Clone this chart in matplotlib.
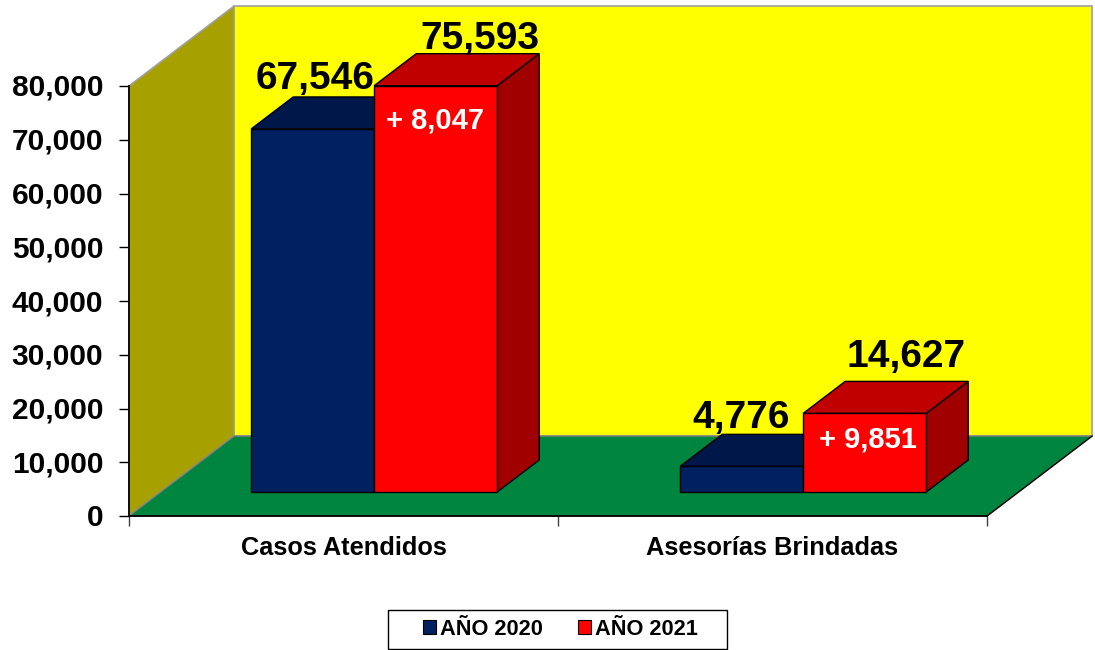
import matplotlib
matplotlib.use("Agg")
import matplotlib.pyplot as plt
from matplotlib.patches import Patch, Polygon, Rectangle
from matplotlib.transforms import ScaledTranslation

categories = ["Casos Atendidos", "Asesorías Brindadas"]
series_names = ["AÑO 2020", "AÑO 2021"]
values_2020 = [67546, 4776]
values_2021 = [75593, 14627]
differences = ["+ 8,047", "+ 9,851"]
yticks = [0, 10000, 20000, 30000, 40000, 50000, 60000, 70000, 80000]

NAVY = ("#002060", "#00174a", "#001a50")
RED = ("#ff0000", "#c00000", "#a00000")

# depth of the box, in data units
DX = 0.245
DY = 14880
BAR_W = 0.2867
BAR_D0 = 0.3
BAR_D1 = 0.7
GROUP_POS = 0.498


def proj(x, y, d):
    return (x + d * DX, y + d * DY)


def poly(ax, pts, color, edge="none", lw=0.0, z=1):
    ax.add_patch(Polygon(pts, closed=True, facecolor=color, edgecolor=edge,
                         linewidth=lw, clip_on=False, zorder=z))


def draw_bar(ax, x0, value, colors, z):
    x1 = x0 + BAR_W
    e = "#000000"
    # right side, top, then the front
    poly(ax, [proj(x1, 0, BAR_D0), proj(x1, 0, BAR_D1), proj(x1, value, BAR_D1),
              proj(x1, value, BAR_D0)], colors[2], e, 1.0, z)
    poly(ax, [proj(x0, value, BAR_D0), proj(x1, value, BAR_D0), proj(x1, value, BAR_D1),
              proj(x0, value, BAR_D1)], colors[1], e, 1.0, z)
    poly(ax, [proj(x0, 0, BAR_D0), proj(x1, 0, BAR_D0), proj(x1, value, BAR_D0),
              proj(x0, value, BAR_D0)], colors[0], e, 1.0, z)


def label(ax, x, y, text, off, size, color="black"):
    ax.annotate(text, xy=proj(x, y, BAR_D0), xytext=(off[0] * 0.72, off[1] * 0.72),
                textcoords="offset points", ha="center", va="baseline",
                fontsize=size, fontweight="bold", color=color,
                annotation_clip=False, zorder=10)


def main():
    plt.rcParams["font.family"] = ["Liberation Sans", "DejaVu Sans"]
    W, H = 1095, 650
    fig = plt.figure(figsize=(W / 100, H / 100), dpi=100)
    ax = fig.add_axes([129 / W, 1 - 516 / H, 858 / W, 430 / H])
    ax.set_xlim(0, 2)
    ax.set_ylim(0, 80000)

    # walls and floor
    top = yticks[-1]
    poly(ax, [proj(0, 0, 1), proj(2, 0, 1), proj(2, top, 1), proj(0, top, 1)],
         "#ffff00", "#a0a0a0", 1.2)
    poly(ax, [proj(0, 0, 0), proj(0, 0, 1), proj(0, top, 1), proj(0, top, 0)],
         "#a6a000", "#a0a0a0", 1.2, 2)
    poly(ax, [proj(0, 0, 0), proj(2, 0, 0), proj(2, 0, 1), proj(0, 0, 1)],
         "#00853e", "#808080", 1.0, 2)

    for i in range(len(categories)):
        center = i + GROUP_POS
        draw_bar(ax, center - BAR_W, values_2020[i], NAVY, 3 + 2 * i)
        draw_bar(ax, center, values_2021[i], RED, 4 + 2 * i)

    c0, c1 = GROUP_POS, 1 + GROUP_POS
    label(ax, c0 - BAR_W / 2, values_2020[0], f"{values_2020[0]:,}", (2, 40), 28)
    label(ax, c0 + BAR_W / 2, values_2021[0], f"{values_2021[0]:,}", (44, 37), 28)
    label(ax, c1 - BAR_W / 2, values_2020[1], f"{values_2020[1]:,}", (-1, 38), 28)
    label(ax, c1 + BAR_W / 2, values_2021[1], f"{values_2021[1]:,}", (41, 46), 28)
    label(ax, c0 + BAR_W / 2, values_2021[0], differences[0], (-1, -43), 21, "white")
    label(ax, c1 + BAR_W / 2, values_2021[1], differences[1], (3, -34), 21, "white")

    ax.spines["top"].set_visible(False)
    ax.spines["right"].set_visible(False)
    for s in ("left", "bottom"):
        ax.spines[s].set_linewidth(1.3)
        ax.spines[s].set_zorder(8)
    ax.plot([2, 2 + DX], [0, DY], color="black", lw=1.0, clip_on=False, zorder=8)

    ax.set_yticks(yticks)
    ax.set_yticklabels([f"{v:,}" for v in yticks], fontsize=21.5, fontweight="bold")
    ax.tick_params(axis="y", length=7, width=1.0, pad=11.5)
    nudge = ScaledTranslation(0, 1 / 100, fig.dpi_scale_trans)
    for t in ax.get_yticklabels():
        t.set_transform(t.get_transform() + nudge)
    ax.set_xticks([0, 1, 2])
    ax.set_xticklabels([])
    ax.tick_params(axis="x", length=7, width=1.0, color="#404040")
    ax.set_xticks([0.5, 1.5], minor=True)
    ax.set_xticklabels(categories, minor=True, fontsize=18.3, fontweight="bold")
    ax.tick_params(axis="x", which="minor", length=0, pad=14.5)

    # legend frame is wider than the entries, so it is its own rectangle
    fig.add_artist(Rectangle((388 / W, 1 - 649 / H), 339 / W, 39 / H,
                             transform=fig.transFigure, facecolor="white",
                             edgecolor="black", linewidth=1.0))
    handles = [Patch(facecolor=NAVY[0], edgecolor="black", linewidth=0.8),
               Patch(facecolor=RED[0], edgecolor="black", linewidth=0.8)]
    fig.legend(handles, series_names, ncol=2, loc="center",
               bbox_to_anchor=(560.5 / W, 1 - 629.5 / H),
               prop={"weight": "bold", "size": 15.7},
               handlelength=0.6, handleheight=0.6, handletextpad=0.2,
               columnspacing=1.6, borderpad=0, borderaxespad=0, frameon=False)

    plt.savefig("out.png", dpi=100)


if __name__ == "__main__":
    main()
